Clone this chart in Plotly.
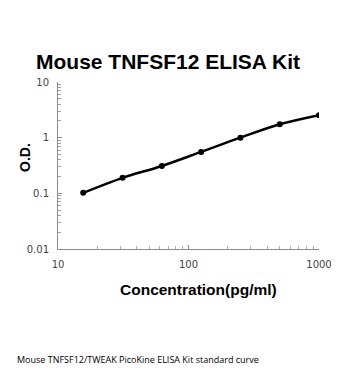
import plotly.graph_objects as go

conc = [15.6, 31.25, 62.5, 125, 250, 500, 1000]
od = [0.102, 0.19, 0.31, 0.555, 1.0, 1.74, 2.54]
x_ticks = [10, 100, 1000]
x_labels = ["10", "100", "1000"]
x_minor = [20, 30, 40, 50, 60, 70, 80, 90, 200, 300, 400, 500, 600, 700, 800, 900]
y_ticks = [0.01, 0.1, 1, 10]
y_labels = ["0.01", "0.1", "1", "10"]
y_minor = [0.02, 0.03, 0.04, 0.05, 0.06, 0.07, 0.08, 0.09,
           0.2, 0.3, 0.4, 0.5, 0.6, 0.7, 0.8, 0.9,
           2, 3, 4, 5, 6, 7, 8, 9]

fig = go.Figure()
fig.add_trace(go.Scatter(
    x=conc, y=od, mode="lines+markers",
    line=dict(color="black", width=2.5, shape="spline"),
    marker=dict(color="black", size=6),
    showlegend=False, hoverinfo="skip",
))

axis_common = dict(
    type="log", showgrid=False, zeroline=False,
    showline=True, linecolor="#8c8c8c", linewidth=1,
    ticks="inside", ticklen=4, tickcolor="#8c8c8c",
    tickfont=dict(family="DejaVu Sans", size=10, color="#444444"),
)
fig.update_xaxes(range=[1, 3], tickvals=x_ticks, ticktext=x_labels,
                 ticklabelstandoff=6,
                 minor=dict(tickvals=x_minor, ticks="inside", ticklen=3,
                            tickcolor="#b0b0b0", showgrid=False),
                 **axis_common)
fig.update_yaxes(range=[-2, 1], tickvals=y_ticks, ticktext=y_labels,
                 ticklabelstandoff=6,
                 minor=dict(tickvals=y_minor, ticks="inside", ticklen=3,
                            tickcolor="#a0a0a0", showgrid=False),
                 **axis_common)

fig.update_layout(
    width=350, height=380,
    margin=dict(l=58, r=31, t=82, b=131),
    paper_bgcolor="white", plot_bgcolor="white",
    annotations=[
        dict(text="<b>Mouse TNFSF12 ELISA Kit</b>", showarrow=False,
             font=dict(family="Liberation Sans", size=21, color="black")),
        dict(text="<b>Concentration(pg/ml)</b>", showarrow=False,
             font=dict(family="Liberation Sans", size=15.5, color="black")),
        dict(text="<b>O.D.</b>", showarrow=False, textangle=-90,
             font=dict(family="Liberation Sans", size=14, color="black")),
        dict(text="Mouse TNFSF12/TWEAK PicoKine ELISA Kit standard curve", showarrow=False,
             font=dict(family="Open Sans", size=9, color="black")),
    ],
)

pw = 350 - 58 - 31
ph = 380 - 82 - 131
def px(x):
    return (x - 58) / pw
def py(y):
    return (380 - 131 - y) / ph

anns = list(fig.layout.annotations)
pos = [(168, 62, "center"), (198, 289, "center"), (25, 158, "center"), (15, 359, "left")]
for a, (x, y, xa) in zip(anns, pos):
    a.update(xref="paper", yref="paper", x=px(x), y=py(y), xanchor=xa, yanchor="middle")
fig.layout.annotations = anns

fig.write_html("out.html")
